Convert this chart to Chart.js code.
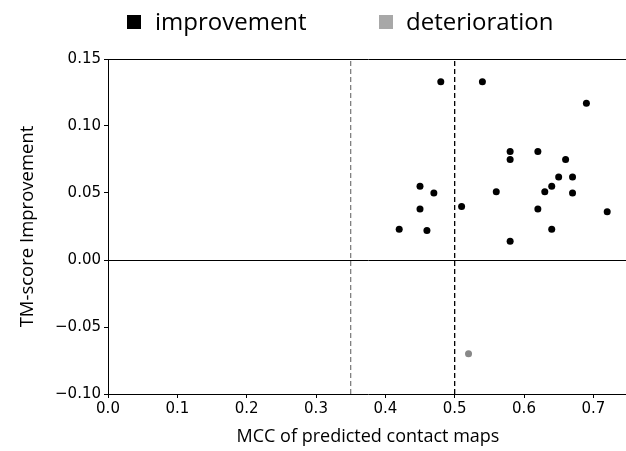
<!DOCTYPE html>
<html>
<head>
<meta charset="utf-8">
<script src="https://cdn.jsdelivr.net/npm/chart.js@4/dist/chart.umd.min.js"></script>
<style>
    html, body { margin: 0; padding: 0; background: #fff; overflow: hidden; }
</style>
</head>
<body>
<canvas id="mcc_chart" width="640" height="451"></canvas>
<script>
    // MCC of predicted contact maps vs TM-score improvement
    const improve_mcc = [0.48, 0.54, 0.69, 0.58, 0.62, 0.58, 0.66, 0.65, 0.67, 0.45, 0.64, 0.47,
                         0.56, 0.63, 0.67, 0.51, 0.45, 0.62, 0.72, 0.42, 0.46, 0.64, 0.58];
    const improve_tm = [0.133, 0.133, 0.117, 0.081, 0.081, 0.075, 0.075, 0.062, 0.062, 0.055, 0.055, 0.050,
                        0.051, 0.051, 0.050, 0.040, 0.038, 0.038, 0.036, 0.023, 0.022, 0.023, 0.014];
    const deter_mcc = [0.52];
    const deter_tm = [-0.070];
    const threshold_x = [0.35, 0.5];
    const threshold_colors = ['#808080', '#000000'];
    const series_labels = ['improvement', 'deterioration'];
    const series_colors = ['#000000', '#888888'];
    const legend_colors = ['#000000', '#a8a8a8'];

    const x_min = 0, x_max = 0.75, y_min = -0.10, y_max = 0.15;

    function zip(xs, ys) {
        var out = [];
        for (var i = 0; i < xs.length; i++) {
            out.push({x: xs[i], y: ys[i]});
        }
        return out;
    }

    var datasets = [
        {
            label: series_labels[0],
            data: zip(improve_mcc, improve_tm),
            backgroundColor: series_colors[0],
            borderColor: series_colors[0],
            pointRadius: 3.5,
            borderWidth: 0,
        },
        {
            label: series_labels[1],
            data: zip(deter_mcc, deter_tm),
            backgroundColor: series_colors[1],
            borderColor: series_colors[1],
            pointRadius: 3.5,
            borderWidth: 0,
        },
    ];

    // vertical threshold lines
    threshold_x.forEach(function(tx, i) {
        datasets.push({
            type: 'line',
            label: 'thr' + tx,
            data: [{x: tx, y: y_min}, {x: tx, y: y_max}],
            borderColor: threshold_colors[i],
            borderWidth: 1.3,
            borderDash: [5, 3],
            pointRadius: 0,
            fill: false,
        });
    });

    // legend drawn across the top, like the figure
    const topLegend = {
        id: 'topLegend',
        afterDraw(chart) {
            const ctx = chart.ctx;
            const pos = [[127, 155], [379, 406]];
            ctx.save();
            ctx.font = '24px "Open Sans", sans-serif';
            ctx.textBaseline = 'middle';
            for (var i = 0; i < 2; i++) {
                ctx.fillStyle = legend_colors[i];
                ctx.fillRect(pos[i][0], 15, 14, 14);
                ctx.fillStyle = '#000';
                ctx.fillText(series_labels[i], pos[i][1], 23);
            }
            ctx.restore();
        }
    };

    const tickFont = {family: '"DejaVu Sans"', size: 15};
    const titleFont = {family: '"Open Sans", sans-serif', size: 18};

    function fmt(v, d) {
        var s = Math.abs(v).toFixed(d);
        return (v < -1e-9 ? '\u2212' : '') + s;
    }

    try {
        let chartCanvas = document.getElementById('mcc_chart').getContext('2d');
        let chartObject = new Chart(chartCanvas, {
            type: 'scatter',
            data: {datasets: datasets},
            plugins: [topLegend],
            options: {
                responsive: false,
                animation: false,
                layout: {padding: {top: 59, right: 12, left: 0, bottom: 0}},
                plugins: {
                    legend: {display: false},
                    tooltip: {enabled: false},
                },
                scales: {
                    x: {
                        type: 'linear',
                        min: x_min,
                        max: x_max,
                        afterFit: function(axis) { axis.height = 57; },
                        ticks: {
                            stepSize: 0.1,
                            includeBounds: false,
                            color: '#000',
                            font: tickFont,
                            padding: 2,
                            callback: function(v) { return fmt(v, 1); },
                        },
                        grid: {
                            color: 'rgba(0,0,0,0)',
                            tickColor: '#000',
                            tickLength: 4,
                            drawTicks: true,
                        },
                        border: {color: '#000', width: 1},
                        title: {
                            display: true,
                            text: 'MCC of predicted contact maps',
                            color: '#000',
                            font: titleFont,
                            padding: {top: 4, bottom: 3},
                        },
                    },
                    y: {
                        type: 'linear',
                        min: y_min,
                        max: y_max,
                        afterFit: function(axis) { axis.width = 108; },
                        ticks: {
                            stepSize: 0.05,
                            color: '#000',
                            font: tickFont,
                            padding: 3,
                            callback: function(v) { return fmt(v, 2); },
                        },
                        grid: {
                            color: function(c) {
                                if (!c.tick) return 'rgba(0,0,0,0)';
                                var v = c.tick.value;
                                return (Math.abs(v) < 1e-9 || Math.abs(v - y_max) < 1e-9) ? '#000' : 'rgba(0,0,0,0)';
                            },
                            tickColor: '#000',
                            tickLength: 4,
                            drawTicks: true,
                        },
                        border: {color: '#000', width: 1},
                        title: {
                            display: true,
                            text: 'TM-score Improvement',
                            color: '#000',
                            font: {family: '"Open Sans", sans-serif', size: 18.5},
                            padding: {top: 17, bottom: 0},
                        },
                    },
                },
            },
        });
    } catch(error) {
        console.log(`error: ${error.message}`);
    }
</script>
</body>
</html>
